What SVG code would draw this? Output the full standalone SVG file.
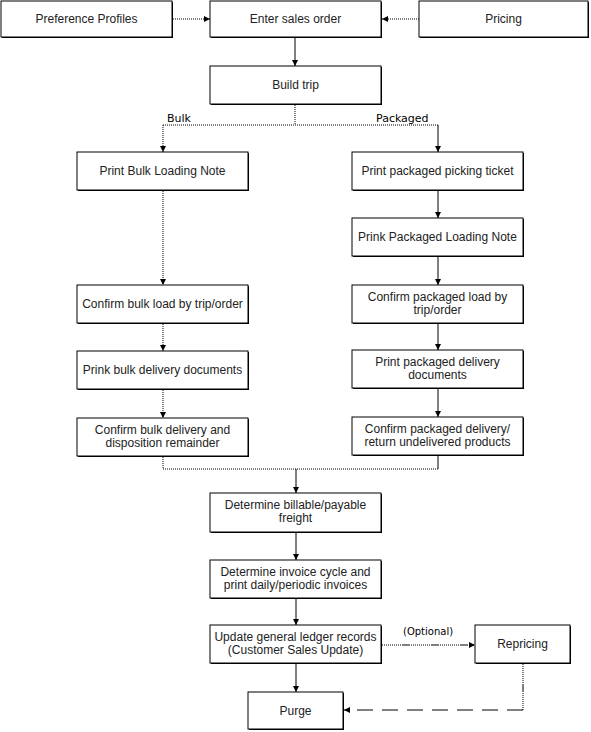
<svg xmlns="http://www.w3.org/2000/svg" width="591" height="732" viewBox="0 0 591 732">
<style>
.sh{fill:#000}
.bx{fill:#fff;stroke:#000;stroke-width:1}
text{font-family:"Liberation Sans",Arial,sans-serif;font-size:12px;fill:#222;text-anchor:middle}
.lbl{font-family:"DejaVu Sans","Liberation Sans",sans-serif;font-size:11px;fill:#000;text-anchor:start}
.c{fill:none;stroke:#000;stroke-width:1}
.dot{stroke-dasharray:1 1}
.dd{stroke-dasharray:1 1 1 1 1 1 1 1 1 1 1 1 1 1 1 1 1 1 1 1 8 1}
.ld{stroke-dasharray:16 9}
</style>
<defs>
<marker id="ah" viewBox="0 0 6 6" refX="6" refY="3" markerWidth="6" markerHeight="6" markerUnits="userSpaceOnUse" orient="auto">
<path d="M0,0 L6,3 L0,6 z" fill="#000" stroke="none"/>
</marker>
</defs>
<rect width="591" height="732" fill="#fff"/>

<g id="connectors">
<path class="c dot" d="M173,19 H210" marker-end="url(#ah)"/>
<path class="c dot" d="M419,19 H382" marker-end="url(#ah)"/>
<path class="c" d="M295,38 V66" marker-end="url(#ah)"/>
<path class="c dot" d="M295,105 V125 M163,125 H438"/>
<path class="c dot" d="M163,125 V152" marker-end="url(#ah)"/>
<path class="c" d="M438,125 V152" marker-end="url(#ah)"/>
<path class="c dot" d="M163,191 V285" marker-end="url(#ah)"/>
<path class="c dot" d="M163,324 V351" marker-end="url(#ah)"/>
<path class="c dot" d="M163,390 V418" marker-end="url(#ah)"/>
<path class="c" d="M438,191 V218" marker-end="url(#ah)"/>
<path class="c" d="M438,257 V285" marker-end="url(#ah)"/>
<path class="c" d="M438,324 V350" marker-end="url(#ah)"/>
<path class="c" d="M438,389 V417" marker-end="url(#ah)"/>
<path class="c dot" d="M163,457 V469 H438"/>
<path class="c" d="M438,456 V469"/>
<path class="c" d="M296,469 V493" marker-end="url(#ah)"/>
<path class="c" d="M296,533 V560" marker-end="url(#ah)"/>
<path class="c" d="M296,599 V625" marker-end="url(#ah)"/>
<path class="c" d="M296,664 V692" marker-end="url(#ah)"/>
<path class="c dd" d="M382,645 H475" marker-end="url(#ah)"/>
<path class="c dd" d="M523,664 V710"/>
<path class="c ld" d="M523,710 H344" marker-end="url(#ah)"/>
<text class="lbl" x="167" y="122">Bulk</text>
<text class="lbl" x="376" y="122">Packaged</text>
<text class="lbl" x="403" y="635" style="font-size:10px">(Optional)</text>
</g>

<g id="pref"><rect class="sh" x="2" y="2" width="171" height="36"/><rect class="bx" x="1" y="1" width="171" height="36"/><text x="86.5" y="23">Preference Profiles</text></g>
<g id="enter"><rect class="sh" x="211" y="2" width="171" height="36"/><rect class="bx" x="210" y="1" width="171" height="36"/><text x="295.5" y="23">Enter sales order</text></g>
<g id="pricing"><rect class="sh" x="420" y="2" width="169" height="36"/><rect class="bx" x="419" y="1" width="169" height="36"/><text x="503.5" y="23">Pricing</text></g>
<g id="build"><rect class="sh" x="211" y="67" width="171" height="38"/><rect class="bx" x="210" y="66" width="171" height="38"/><text x="295.5" y="89">Build trip</text></g>

<g id="pbulk"><rect class="sh" x="78" y="153" width="171" height="38"/><rect class="bx" x="77" y="152" width="171" height="38"/><text x="162.5" y="175">Print Bulk Loading Note</text></g>
<g id="ppick"><rect class="sh" x="353" y="153" width="171" height="38"/><rect class="bx" x="352" y="152" width="171" height="38"/><text x="437.5" y="175">Print packaged picking ticket</text></g>
<g id="ppload"><rect class="sh" x="353" y="219" width="171" height="38"/><rect class="bx" x="352" y="218" width="171" height="38"/><text x="437.5" y="241">Prink Packaged Loading Note</text></g>
<g id="cpload"><rect class="sh" x="353" y="286" width="171" height="38"/><rect class="bx" x="352" y="285" width="171" height="38"/><text x="437.5" y="301">Confirm packaged load by</text><text x="437.5" y="314">trip/order</text></g>
<g id="ppdel"><rect class="sh" x="353" y="351" width="171" height="38"/><rect class="bx" x="352" y="350" width="171" height="38"/><text x="437.5" y="366">Print packaged delivery</text><text x="437.5" y="379">documents</text></g>
<g id="cpdel"><rect class="sh" x="353" y="418" width="171" height="38"/><rect class="bx" x="352" y="417" width="171" height="38"/><text x="437.5" y="433">Confirm packaged delivery/</text><text x="437.5" y="446">return undelivered products</text></g>

<g id="cbload"><rect class="sh" x="78" y="286" width="171" height="38"/><rect class="bx" x="77" y="285" width="171" height="38"/><text x="162.5" y="308">Confirm bulk load by trip/order</text></g>
<g id="pbdel"><rect class="sh" x="78" y="352" width="171" height="38"/><rect class="bx" x="77" y="351" width="171" height="38"/><text x="162.5" y="374">Prink bulk delivery documents</text></g>
<g id="cbdel"><rect class="sh" x="78" y="419" width="171" height="38"/><rect class="bx" x="77" y="418" width="171" height="38"/><text x="162.5" y="434">Confirm bulk delivery and</text><text x="162.5" y="447">disposition remainder</text></g>

<g id="bill"><rect class="sh" x="211" y="494" width="171" height="39"/><rect class="bx" x="210" y="493" width="171" height="39"/><text x="295.5" y="509">Determine billable/payable</text><text x="295.5" y="522">freight</text></g>
<g id="inv"><rect class="sh" x="211" y="561" width="171" height="38"/><rect class="bx" x="210" y="560" width="171" height="38"/><text x="295.5" y="576">Determine invoice cycle and</text><text x="295.5" y="589">print daily/periodic invoices</text></g>
<g id="gl"><rect class="sh" x="211" y="626" width="171" height="38"/><rect class="bx" x="210" y="625" width="171" height="38"/><text x="295.5" y="641">Update general ledger records</text><text x="295.5" y="654">(Customer Sales Update)</text></g>
<g id="repr"><rect class="sh" x="476" y="626" width="95" height="38"/><rect class="bx" x="475" y="625" width="95" height="38"/><text x="522.5" y="648">Repricing</text></g>
<g id="purge"><rect class="sh" x="249" y="693" width="95" height="37"/><rect class="bx" x="248" y="692" width="95" height="37"/><text x="295.5" y="715">Purge</text></g>
</svg>
